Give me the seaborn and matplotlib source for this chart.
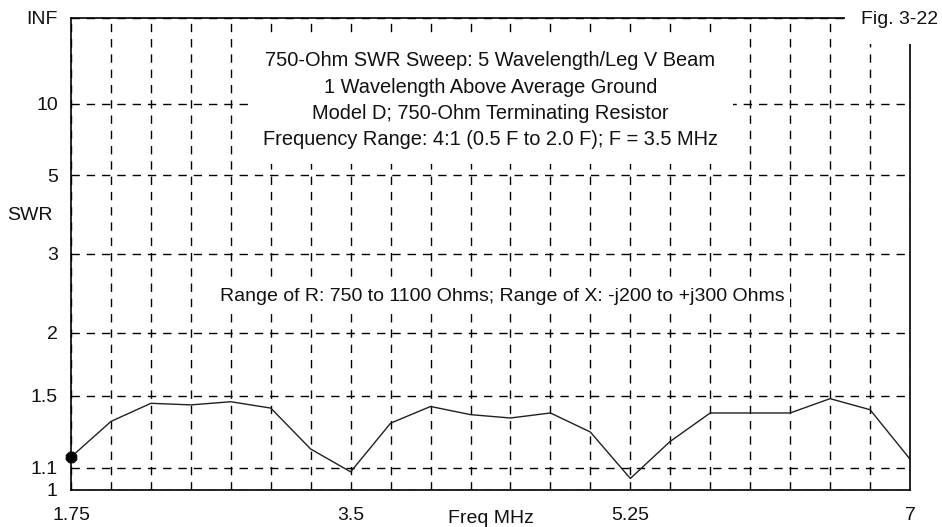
import numpy as np
import pandas as pd
import matplotlib
matplotlib.use('Agg')
import matplotlib.pyplot as plt
import seaborn as sns

sns.set_style('white')
plt.rcParams['font.family'] = ['Liberation Sans', 'DejaVu Sans']

# ==========================================
# 数据
# ==========================================
freq_mhz = [1.75, 2.0, 2.25, 2.5, 2.75, 3.0, 3.25, 3.5, 3.75, 4.0, 4.25,
            4.5, 4.75, 5.0, 5.25, 5.5, 5.75, 6.0, 6.25, 6.5, 6.75, 7.0]
swr = [1.15, 1.34, 1.45, 1.44, 1.46, 1.42, 1.19, 1.08, 1.33, 1.43, 1.38,
       1.36, 1.39, 1.28, 1.05, 1.23, 1.39, 1.39, 1.39, 1.48, 1.41, 1.14]

swr_ticks = [1, 1.1, 1.5, 2, 3, 5, 10, np.inf]
swr_tick_labels = ['1', '1.1', '1.5', '2', '3', '5', '10', 'INF']
freq_grid = np.arange(1.75, 7.01, 0.25)
freq_labels = {1.75: '1.75', 3.5: '3.5', 5.25: '5.25', 7.0: '7'}

title_lines = ['750-Ohm SWR Sweep: 5 Wavelength/Leg V Beam',
               '1 Wavelength Above Average Ground',
               'Model D; 750-Ohm Terminating Resistor',
               'Frequency Range: 4:1 (0.5 F to 2.0 F); F = 3.5 MHz']
range_note = 'Range of R: 750 to 1100 Ohms; Range of X: -j200 to +j300 Ohms'

FS = 14
TXT = '#111111'


def to_rho(s):
    # SWR 轴按反射系数线性刻度
    s = np.asarray(s, dtype=float)
    return np.where(np.isinf(s), 1.0, (s - 1) / (s + 1))


df = pd.DataFrame({'freq': freq_mhz, 'swr': swr})
df['rho'] = to_rho(df['swr'])

# ==========================================
# 绘图
# ==========================================
fig = plt.figure(figsize=(9.42, 5.27), dpi=100)
ax = fig.add_axes([71 / 942, 37 / 527, 839 / 942, 472 / 527])

sns.lineplot(data=df, x='freq', y='rho', color='#202020', linewidth=1, ax=ax)
sns.scatterplot(data=df.iloc[:1], x='freq', y='rho', color='black', s=70,
                marker='8', edgecolor='black', ax=ax, zorder=5, clip_on=False)

ax.set_xlim(1.75, 7.0)
ax.set_ylim(0, 1)
ax.set_xticks(freq_grid)
ax.set_xticklabels([freq_labels.get(round(f, 2), '') for f in freq_grid], fontsize=FS)
ax.set_yticks(to_rho(swr_ticks))
ax.set_yticklabels(swr_tick_labels, fontsize=FS)
ax.tick_params(axis='both', length=0, colors=TXT)
ax.tick_params(axis='x', pad=12)
ax.tick_params(axis='y', pad=9.5)
ax.grid(True, color='black', linestyle=(0, (6, 5)), linewidth=1)
for sp in ax.spines.values():
    sp.set_color('black')
    sp.set_linewidth(1.2)

ax.set_xlabel('Freq MHz', fontsize=FS, color=TXT, labelpad=-10)
ax.set_ylabel('')
fig.text(30 / 942, 1 - 216 / 527, 'SWR', fontsize=FS, color=TXT,
         ha='center', va='center')

ax.text(0.5, 0.826, '\n'.join(title_lines), transform=ax.transAxes,
        ha='center', va='center', fontsize=14.4, color=TXT, linespacing=1.48,
        bbox=dict(boxstyle='square,pad=0.75', fc='white', ec='none'))
ax.text(0.514, 0.411, range_note, transform=ax.transAxes, ha='center', va='center',
        fontsize=FS, color=TXT,
        bbox=dict(boxstyle='square,pad=0.3', fc='white', ec='none'))
fig.text(938 / 942, 1 - 20 / 527, 'Fig. 3-22', fontsize=FS, color=TXT,
         ha='right', va='center', zorder=10,
         bbox=dict(boxstyle='square,pad=0.8', fc='white', ec='none'))

fig.savefig('out.png', dpi=100, facecolor='white')
